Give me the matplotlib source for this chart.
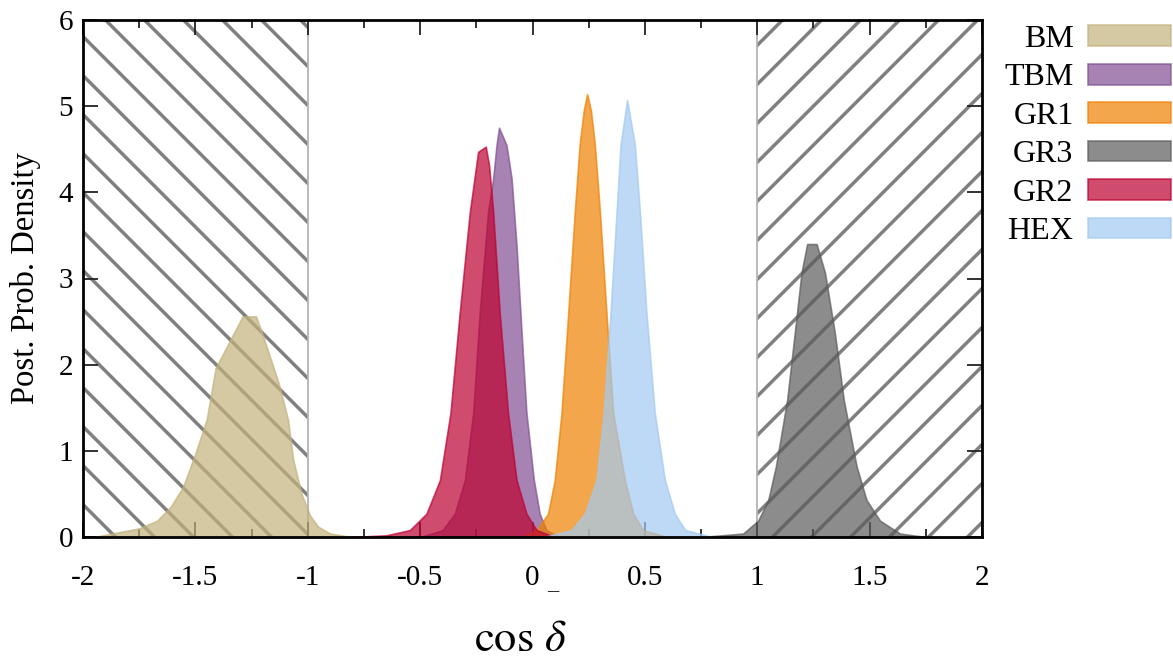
import numpy as np
import matplotlib
matplotlib.use('Agg')
import matplotlib.pyplot as plt
from matplotlib.patches import Rectangle

plt.rcParams['font.family'] = ['Liberation Serif', 'DejaVu Serif']
plt.rcParams['mathtext.fontset'] = 'stix'

# series names in legend / drawing order
names = ['BM', 'TBM', 'GR1', 'GR3', 'GR2', 'HEX']
colors = ['#c2b27c', '#804f92', '#ef8000', '#5b5b5b', '#bd0030', '#a2caf1']

# posterior densities
bm_x = [-1.95, -1.87, -1.75, -1.67, -1.61, -1.555, -1.50, -1.45, -1.41, -1.33, -1.29, -1.23,
        -1.20, -1.13, -1.088, -1.065, -1.028, -0.99, -0.954, -0.90, -0.83, -0.75]
bm_y = [0.0, 0.04, 0.10, 0.19, 0.35, 0.58, 0.97, 1.36, 1.96, 2.36, 2.56, 2.56,
        2.34, 1.79, 1.36, 0.90, 0.50, 0.25, 0.12, 0.04, 0.01, 0.0]

tbm_x = [-0.50, -0.40, -0.346, -0.301, -0.264, -0.235, -0.198, -0.175, -0.16, -0.149,
         -0.116, -0.093, -0.071, -0.045, -0.027, 0.006, 0.032, 0.062, 0.12]
tbm_y = [0.0, 0.08, 0.27, 0.66, 1.44, 2.60, 3.77, 4.16, 4.55, 4.75,
         4.55, 4.16, 3.38, 2.21, 1.44, 0.66, 0.27, 0.08, 0.0]

gr1_x = [-0.05, 0.018, 0.069, 0.099, 0.129, 0.159, 0.188, 0.21, 0.228, 0.243, 0.26,
         0.277, 0.30, 0.329, 0.359, 0.411, 0.448, 0.492, 0.60]
gr1_y = [0.0, 0.08, 0.27, 0.66, 1.44, 2.60, 3.77, 4.56, 4.95, 5.14, 4.95,
         4.56, 3.77, 2.60, 1.44, 0.66, 0.27, 0.08, 0.0]

gr3_x = [0.75, 0.937, 1.004, 1.049, 1.083, 1.133, 1.167, 1.197, 1.222, 1.264,
         1.301, 1.345, 1.385, 1.442, 1.486, 1.546, 1.635, 1.75]
gr3_y = [0.0, 0.04, 0.19, 0.43, 0.82, 1.59, 2.37, 3.07, 3.40, 3.40,
         3.07, 2.37, 1.59, 0.82, 0.43, 0.19, 0.04, 0.0]

gr2_x = [-0.80, -0.65, -0.546, -0.472, -0.412, -0.365, -0.324, -0.279, -0.242, -0.208,
         -0.193, -0.175, -0.146, -0.109, -0.071, -0.027, 0.018, 0.10]
gr2_y = [0.0, 0.02, 0.08, 0.27, 0.66, 1.44, 2.60, 3.77, 4.47, 4.53,
         4.31, 3.77, 2.60, 1.44, 0.66, 0.27, 0.08, 0.0]

hex_x = [0.05, 0.174, 0.233, 0.285, 0.317, 0.347, 0.374, 0.392, 0.421,
         0.455, 0.478, 0.507, 0.544, 0.589, 0.633, 0.68, 0.80]
hex_y = [0.0, 0.08, 0.27, 0.66, 1.44, 2.60, 3.77, 4.56, 5.07,
         4.56, 3.77, 2.60, 1.44, 0.66, 0.27, 0.08, 0.0]

series_x = [bm_x, tbm_x, gr1_x, gr3_x, gr2_x, hex_x]
series_y = [bm_y, tbm_y, gr1_y, gr3_y, gr2_y, hex_y]

xtick_vals = [-2, -1.5, -1, -0.5, 0, 0.5, 1, 1.5, 2]
xtick_labels = ['-2', '-1.5', '-1', '-0.5', '0', '0.5', '1', '1.5', '2']
ytick_vals = [0, 1, 2, 3, 4, 5, 6]

fig = plt.figure(figsize=(11.73, 6.6), dpi=100)
ax = fig.add_axes([83 / 1173, 1 - 537 / 660, 899 / 1173, 517 / 660])
ax.set_xlim(-2, 2)
ax.set_ylim(0, 6)

# hatched regions |cos d| > 1, lines at 45 degrees on screen
slope = (6 / 517) / (4 / 899)
run = 6 / slope
step = 39 * 4 / 899
left_box = Rectangle((-2, 0), 1, 6, transform=ax.transData)
right_box = Rectangle((1, 0), 1, 6, transform=ax.transData)
for x0 in np.arange(-1.90 - 14 * step, -0.95, step):
    ln, = ax.plot([x0, x0 + run], [6, 0], color='#808080', lw=2.5, zorder=1)
    ln.set_clip_path(left_box)
for x0 in np.arange(1.286 - 2 * step, 2 + run + step, step):
    ln, = ax.plot([x0 - run, x0], [0, 6], color='#808080', lw=2.5, zorder=1)
    ln.set_clip_path(right_box)
ax.axvline(-1, color='#b4b4b4', lw=1.3, zorder=1.5)
ax.axvline(1, color='#b4b4b4', lw=1.3, zorder=1.5)

for xs, ys, c, n in zip(series_x, series_y, colors, names):
    ax.fill_between(xs, ys, color=c, alpha=0.7, lw=1.2, label=n, zorder=2)

ax.set_xticks(xtick_vals)
ax.set_xticklabels(xtick_labels)
ax.set_xticks([-1.75, -1.25, -0.75, -0.25, 0.25, 0.75, 1.25, 1.75], minor=True)
ax.set_yticks(ytick_vals)
ax.tick_params(which='both', direction='in', top=True, right=True,
               width=1.3, color='#222222', labelsize=21)
ax.tick_params(which='major', length=11)
ax.tick_params(which='minor', length=5.5)
ax.tick_params(axis='x', pad=20)
ax.tick_params(axis='y', pad=7)
for s in ax.spines.values():
    s.set_linewidth(2)
    s.set_zorder(5)

ax.set_ylabel('Post. Prob. Density', fontsize=23.5, labelpad=13)
ax.set_xlabel(r'$\cos\,\delta$', fontsize=32)
ax.xaxis.set_label_coords(0.486, -0.16)
ax.text(0.09, -0.6, '_', fontsize=16, ha='center', va='baseline')

ax.legend(loc='upper right', bbox_to_anchor=(1171 / 1173, 1 - 25 / 660),
          bbox_transform=fig.transFigure, frameon=False, markerfirst=False,
          fontsize=23, handlelength=2.6, handleheight=0.62, handletextpad=0.45,
          labelspacing=0.295, borderpad=0, borderaxespad=0)

fig.savefig('out.png', dpi=100)
